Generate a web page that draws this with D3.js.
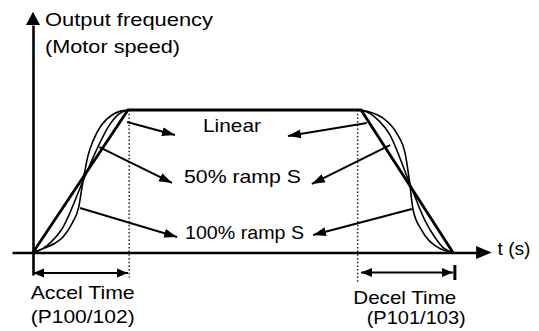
<!DOCTYPE html>
<html><head><meta charset="utf-8">
<script src="https://cdn.jsdelivr.net/npm/d3@7"></script>
<style>
html,body{margin:0;padding:0;background:#fff;}
svg{display:block;}
text{font-family:"Liberation Sans",Arial,Helvetica,sans-serif;font-size:19px;fill:#000;}
</style>
</head><body>
<svg id="c" width="539" height="331"></svg>
<script>
// ---------------- data ----------------
const yTitleLines = ["Output frequency", "(Motor speed)"];
const xTitle = "t (s)";
const seriesNames = ["Linear", "50% ramp S", "100% ramp S"];
const accelLabel = ["Accel Time", "(P100/102)"];
const decelLabel = ["Decel Time", "(P101/103)"];
// time (arbitrary units) / output frequency (% of set speed)
const accelStart = 0, accelEnd = 22.62, decelStart = 78.1, decelEnd = 100;
const dottedTimes = [22.9, 77.3];
const linearProfile = [[0,0],[22.62,100],[78.1,100],[100,0]];
const accelS50  = [[0,0],[2.26,2.5],[4.52,8],[6.79,16],[11.88,50],[15.61,75],[18.1,89],[20.36,97],[22.62,100]];
const accelS100 = [[0,0],[2.5,2.9],[5.2,6.5],[7.2,11.1],[9.3,20.5],[10.9,32],[11.9,50],[13.1,68],[14.4,79],[16.3,89.5],[18.8,96.5],[20.8,99.2],[22.62,100]];
const decelS50  = [[78.1,100],[80.3,97.5],[82.5,92],[84.7,84],[89.5,50],[93.4,22],[95.6,11],[97.8,3],[100,0]];
const decelS100 = [[78.1,100],[83.4,94.2],[86.6,83.6],[88.6,69.6],[89.6,50.9],[90.5,29.8],[92.5,15.8],[96.1,4.1],[98.4,1],[100,0]];
// pointer annotations: [from(t,v), to(t,v)] for Linear, 50%, 100%
const pointerFrom = [[22.4,91.6],[79.5,90.9],[15.8,74],[85,75.4],[11.2,31.2],[90.2,30.5]];
const pointerTo   = [[33.8,82.5],[60.7,81.8],[33.1,48.8],[66.4,48.1],[34.3,10.9],[66.7,12.3]];

// ---------------- layout ----------------
const svg = d3.select("#c");
const x = d3.scaleLinear().domain([0,100]).range([33,453]);
const y = d3.scaleLinear().domain([0,100]).range([252.5,110]);

const defs = svg.append("defs");
defs.append("marker").attr("id","ptr").attr("markerUnits","userSpaceOnUse")
  .attr("viewBox","0 -5 13 10").attr("refX",13).attr("refY",0)
  .attr("markerWidth",13).attr("markerHeight",10).attr("orient","auto")
  .append("path").attr("d","M0,-4.5L13,0L0,4.5Z").attr("fill","#000");
defs.append("marker").attr("id","dim").attr("markerUnits","userSpaceOnUse")
  .attr("viewBox","0 -5 11 10").attr("refX",11).attr("refY",0)
  .attr("markerWidth",11).attr("markerHeight",10).attr("orient","auto-start-reverse")
  .append("path").attr("d","M0,-4.5L11,0L0,4.5Z").attr("fill","#000");

// axes (domain lines only)
const xAxisScale = x.copy().domain([-5, 105.5]).range([x(-5), x(105.5)]);
svg.append("g").attr("transform",`translate(0,${y(0)})`)
  .call(d3.axisBottom(xAxisScale).tickValues([]).tickSizeOuter(0))
  .select(".domain").attr("stroke","#000").attr("stroke-width",2.6);
const yAxisScale = y.copy().domain([-15.8, 159.6]).range([y(-15.8), y(159.6)]);
svg.append("g").attr("transform",`translate(${x(0)},0)`)
  .call(d3.axisLeft(yAxisScale).tickValues([]).tickSizeOuter(0))
  .select(".domain").attr("stroke","#000").attr("stroke-width",2.6);
// axis arrowheads
svg.append("path").attr("fill","#000")
  .attr("d",`M${x(109.2)},${y(0)}L${x(105.5)},${y(0)-6.5}L${x(105.5)},${y(0)+6.5}Z`);
svg.append("path").attr("fill","#000")
  .attr("d",`M${x(0)},${y(169)}L${x(0)-7},${y(159.6)}L${x(0)+7},${y(159.6)}Z`);

// dotted markers
svg.selectAll("line.dot").data(dottedTimes).join("line").attr("class","dot")
  .attr("x1",d=>x(d)).attr("x2",d=>x(d))
  .attr("y1",y(100)).attr("y2",(d,i)=> i===0 ? y(-17.5) : y(-20.5))
  .attr("stroke","#222").attr("stroke-width",1.5).attr("stroke-dasharray","1.5,2.2");

// curves
const line = d3.line().x(d=>x(d[0])).y(d=>y(d[1])).curve(d3.curveMonotoneX);
[accelS50, accelS100, decelS50, decelS100].forEach(s=>{
  svg.append("path").attr("d",line(s)).attr("fill","none")
    .attr("stroke","#000").attr("stroke-width",1.6);
});
svg.append("path").attr("d",d3.line().x(d=>x(d[0])).y(d=>y(d[1]))(linearProfile))
  .attr("fill","none").attr("stroke","#000").attr("stroke-width",2.8)
  .attr("stroke-linejoin","miter");

// pointers
svg.selectAll("line.ptr").data(pointerFrom).join("line").attr("class","ptr")
  .attr("x1",d=>x(d[0])).attr("y1",d=>y(d[1]))
  .attr("x2",(d,i)=>x(pointerTo[i][0])).attr("y2",(d,i)=>y(pointerTo[i][1]))
  .attr("stroke","#000").attr("stroke-width",2).attr("marker-end","url(#ptr)");

// dimension arrows
svg.append("line").attr("x1",x(accelStart)).attr("x2",x(accelEnd))
  .attr("y1",y(-14.4)).attr("y2",y(-14.4)).attr("stroke","#000").attr("stroke-width",2)
  .attr("marker-start","url(#dim)").attr("marker-end","url(#dim)");
svg.append("line").attr("x1",x(decelStart)).attr("x2",x(decelEnd))
  .attr("y1",y(-14)).attr("y2",y(-14)).attr("stroke","#000").attr("stroke-width",2)
  .attr("marker-start","url(#dim)").attr("marker-end","url(#dim)");
svg.append("line").attr("x1",x(100.45)).attr("x2",x(100.45))
  .attr("y1",y(-8.8)).attr("y2",y(-19.3)).attr("stroke","#000").attr("stroke-width",3);

// texts
const texts = [
  {t:yTitleLines[0], x:45, y:26, w:168},
  {t:yTitleLines[1], x:45, y:52.5, w:135},
  {t:seriesNames[0], x:203, y:131.5, w:58},
  {t:seriesNames[1], x:184, y:182.5, w:117},
  {t:seriesNames[2], x:185, y:238.5, w:119},
  {t:xTitle, x:497.5, y:254.5, w:33},
  {t:accelLabel[0], x:30.7, y:299.3, w:104},
  {t:accelLabel[1], x:30.7, y:322.5, w:104},
  {t:decelLabel[0], x:353.3, y:304, w:103},
  {t:decelLabel[1], x:366.7, y:324, w:99}
];
svg.selectAll("text.lbl").data(texts).join("text").attr("class","lbl")
  .attr("x",d=>d.x).attr("y",d=>d.y).attr("textLength",d=>d.w)
  .attr("lengthAdjust","spacingAndGlyphs").text(d=>d.t);
</script>
</body></html>
